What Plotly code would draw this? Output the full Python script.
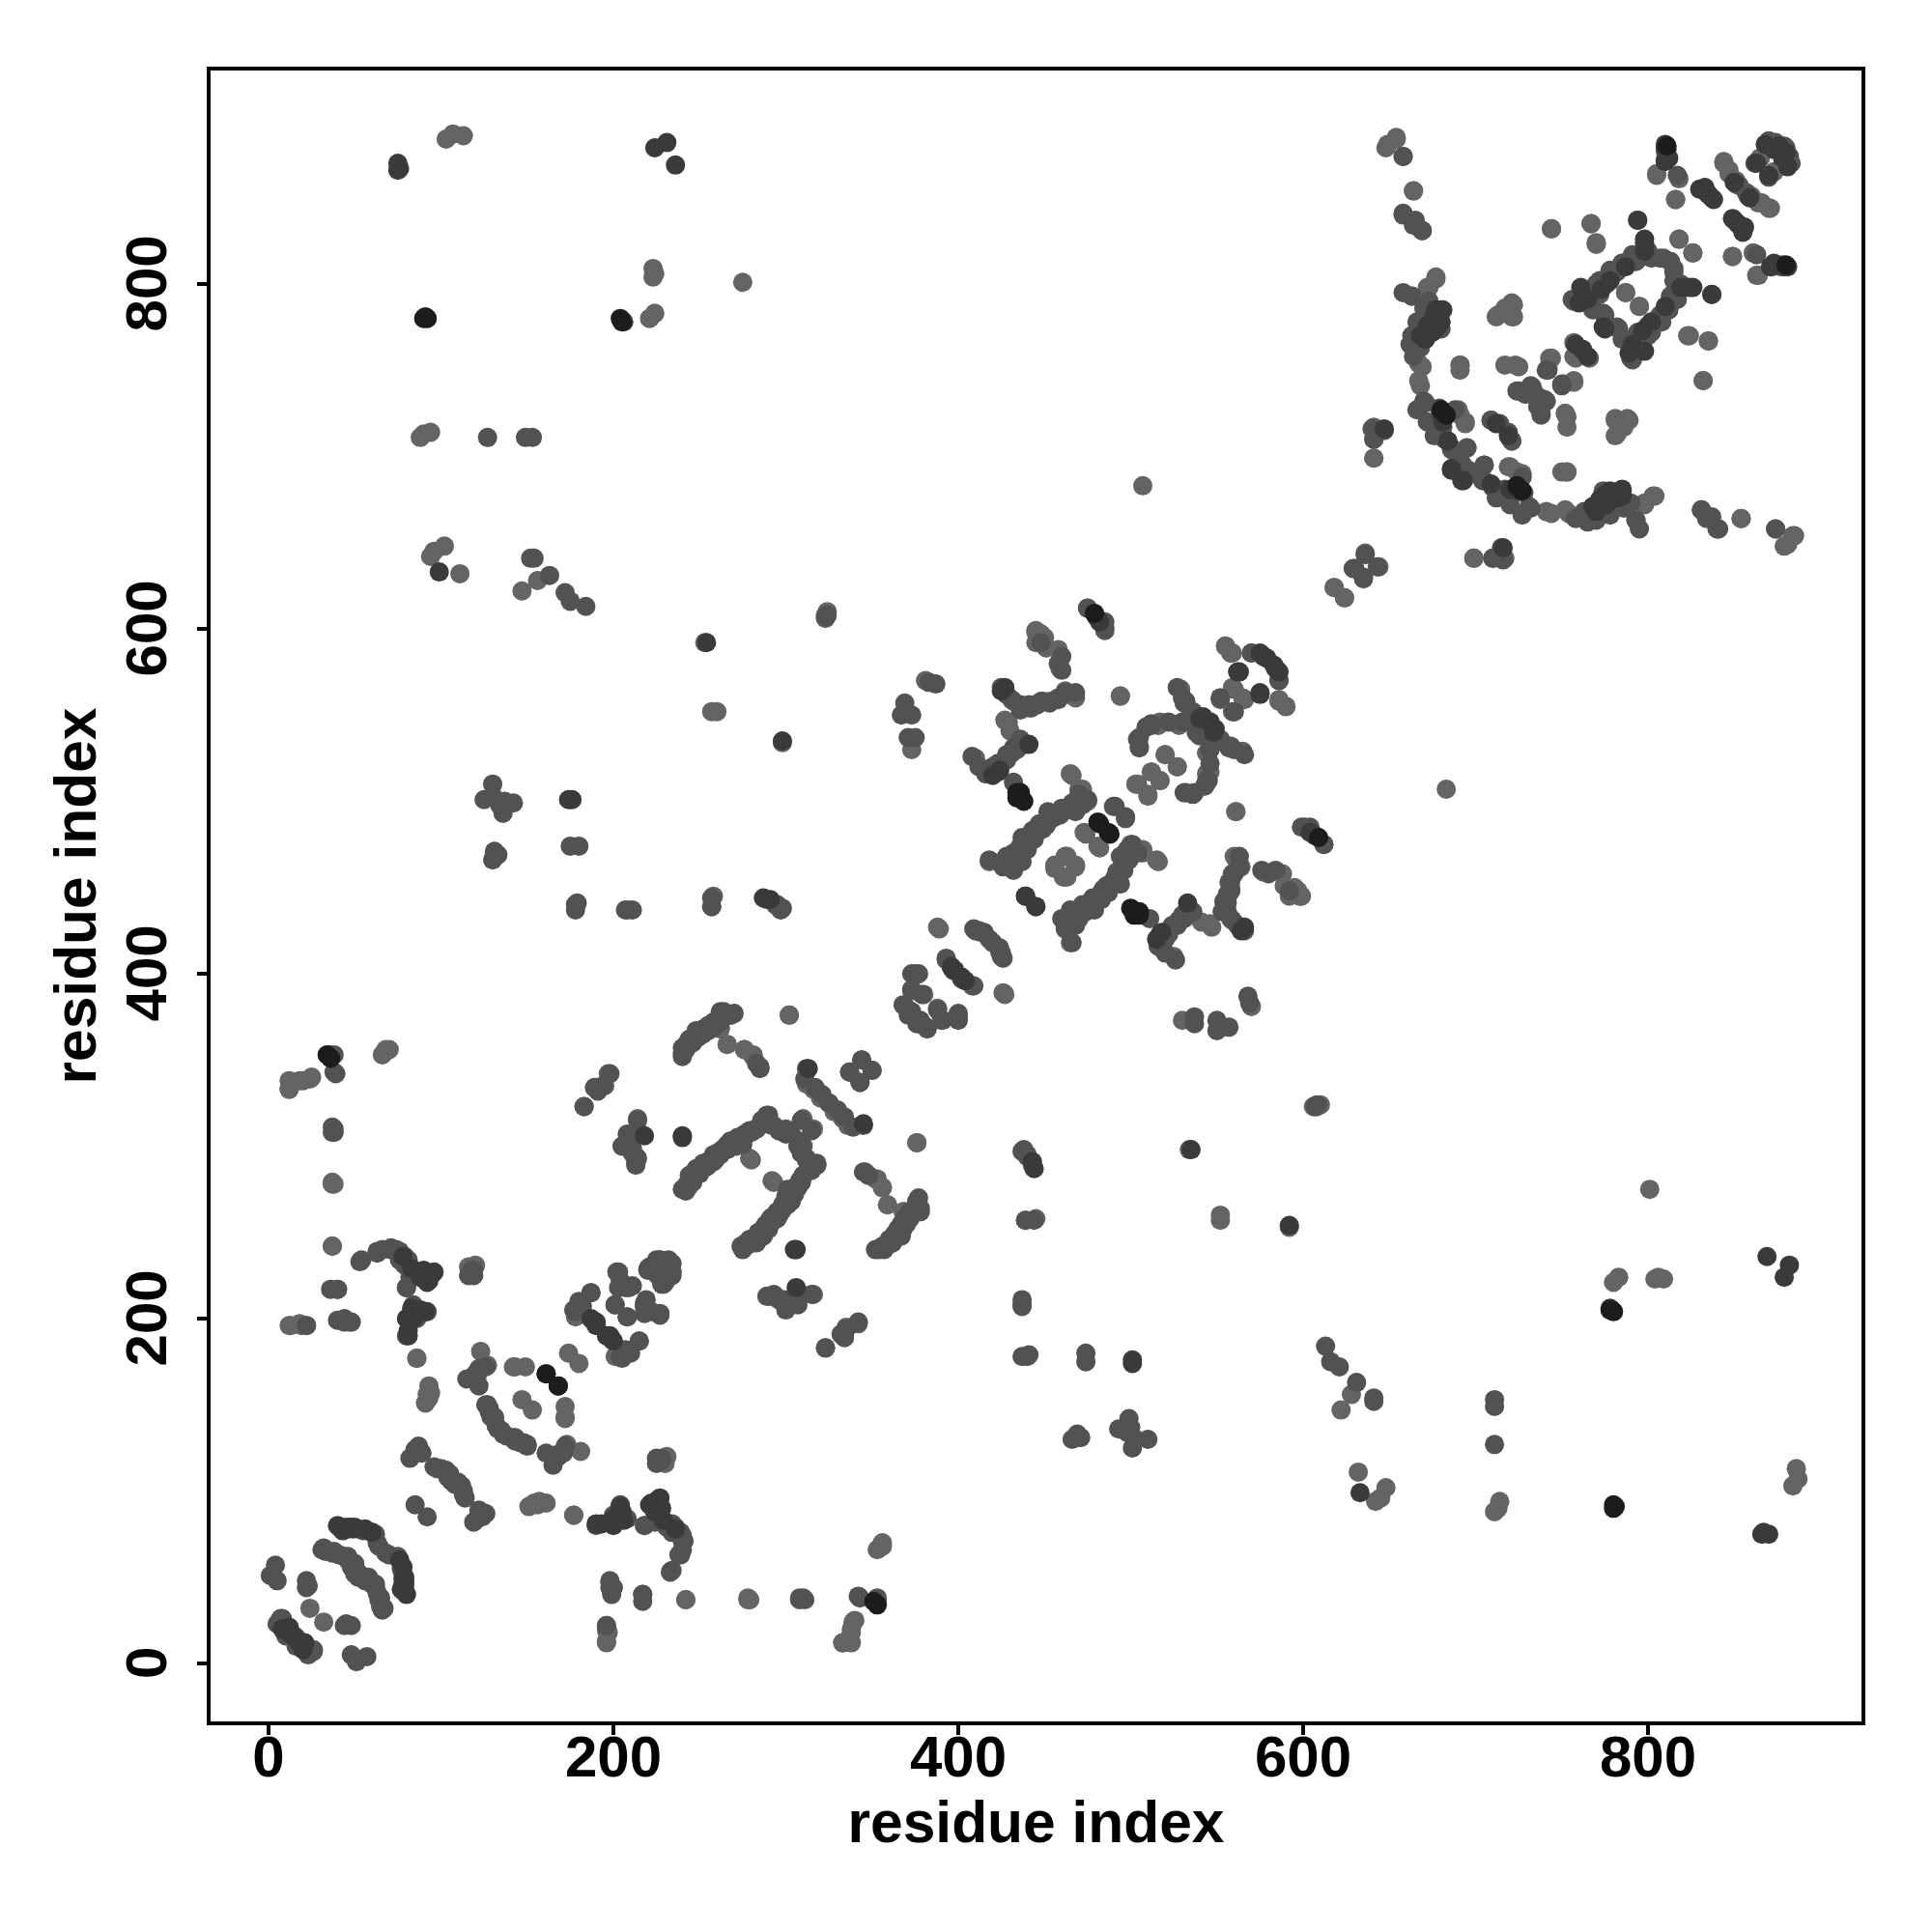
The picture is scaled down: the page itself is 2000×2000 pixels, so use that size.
import plotly.graph_objects as go

# contact pairs (residue i, residue j), drawn on both sides of the diagonal
light_pairs = [
 (103,884),(107,887),(113,886),(275,801),(223,804),(223,809),(224,806),(221,780),(224,783),
 (88,711),(90,713),(94,714),(96,645),(102,648),(94,642),(111,632),(147,622),(156,628),
 (257,552),(260,552),(12,338),(12,333),(20,338),(25,340),(68,355),(70,356),(37,279),(38,278),
 (37,242),(13,196),(19,196),(86,177),(94,157),(93,154),(116,230),(120,231),(201,178),
 (174,180),(147,153),(142,172),(149,172),(172,143),(123,181),(127,173),(24,32),(156,92),(151,91),(161,93),
 (177,86),(218,80),(196,12),(196,22),(197,18),(278,37),(279,37),(242,37),(356,68),(353,66),(333,12),(338,18),(339,24),
 (197,342),(195,335),(214,316),(213,290),(292,280),(279,293),(296,309),(316,310),(302,376),(262,369),(266,359),(276,356),
 (281,353),(285,346),(328,320),(333,316),(336,312),(376,302),(352,281),(356,276),(359,266),(368,262),
 (437,208),(439,257),(445,258),(388,427),(426,389),(494,561),(561,494),(507,683),(462,468),(456,463),(468,463),(461,456),
 (520,527),(527,520),(512,517),(504,510),(517,512),(510,503),(555,590),(558,586),(552,560),(565,560),(559,552),(559,566),
 (586,559),(590,555),(534,298),(592,253),(606,323),(608,323),(610,324),(375,400),(399,375),(408,393),(388,380),(390,373),
 (445,598),(450,595),(445,592),(458,588),(459,577),(429,546),(432,558),(381,570),(462,564),(467,562),(373,530),(465,516),
 (470,507),(475,500),(473,482),(481,474),(507,472),(515,466),(465,418),(492,457),(525,410),(599,445),(597,448),(589,451),
 (612,475),(562,464),(560,468),(558,453),(544,516),(544,528),(565,529),(541,430),(547,427),(517,546),
 (654,885),(649,881),(664,854),(677,804),(672,798),(641,699),(699,641),(744,832),(767,835),(770,824),(818,826),(826,818),
 (849,816),(823,770),(835,767),(832,744),(854,664),(874,658),(884,654),(879,648),(805,864),(816,849),(863,805),(787,795),
 (795,787),(803,677),(798,673),(753,691),(717,641),(710,641),(618,624),(624,618),(667,754),(667,744),(691,753),(691,750),
 (717,753),(723,753),(721,789),(721,781),(712,781),(717,786),(757,744),(751,742),(740,733),(788,722),(781,722),(782,713),
 (695,705),(690,727),(694,720),(719,694),(724,691),(741,668),(752,669),(877,810),(861,818),(844,870),(847,864),(860,851),
 (871,844),(866,847),(865,873),(873,865),(758,757),(743,757),(766,757),(738,725),(752,725),(636,644),
]
mid_pairs = [
 (4,57),(1,51),(5,48),(22,48),(22,44),(23,45),(7,26),(5,23),(26,8),(10,16),(42,78),(45,78),(48,79),(52,78),(55,77),(60,76),
 (62,75),(63,70),(64,68),(31,66),(33,65),(37,64),(41,63),(44,62),(46,60),(50,58),(48,56),(51,54),(52,50),(62,46),(60,47),(65,38),(67,32),
 (53,233),(63,239),(66,240),(71,241),(74,240),(76,239),(79,236),(81,234),(84,227),(80,218),(40,217),(36,217),(42,199),(48,198),(44,198),(22,196),
 (130,510),(125,501),(134,498),(142,499),(136,493),(131,471),(133,469),(175,474),(180,474),(178,437),(178,440),(179,441),(207,437),(211,437),
 (257,444),(257,439),(289,443),(294,440),(298,438),(149,711),(153,711),(127,711),(154,641),(152,641),(163,631),(172,621),(175,616),(184,613),(323,607),(324,608),
 (35,353),(38,353),(39,342),(38,310),(37,308),
 (202,227),(204,222),(207,218),(211,219),(187,215),(180,210),(177,205),(207,182),(215,187),(204,178),(201,208),(208,201),(218,203),(227,203),(218,209),
 (221,229),(229,221),(226,225),(234,227),(227,234),(234,232),(221,230),(220,229),(228,220),(234,225),
 (122,171),(115,165),(121,167),(122,161),(126,172),(120,168),(126,150),(128,146),(131,142),(133,136),(129,143),(127,149),(135,135),(138,132),(143,131),(148,128),(150,127),
 (87,126),(82,119),(89,122),(84,121),(86,122),(85,124),(96,114),(100,113),(103,112),(105,110),(98,113),(104,108),(106,106),(85,92),
 (190,80),(204,92),(208,84),(200,86),(224,82),(231,79),(234,76),(240,71),(238,63),(234,54),(198,47),(199,40),(200,44),(217,40),(308,38),(311,37),(343,38),
 (116,225),(119,228),(225,119),(228,118),
 (183,323),(189,334),(191,332),(208,307),(205,300),(213,294),(211,296),(240,275),(242,277),(244,281),(246,284),(248,287),(252,290),(256,292),(260,296),(263,298),(266,301),(268,303),
 (272,305),(276,307),(280,309),(283,310),(286,315),(289,318),(292,312),(300,310),(303,308),(309,315),(307,300),(309,296),(312,293),(318,290),(310,283),(309,279),(301,275),(303,268),(300,271),
 (296,262),(294,260),(292,259),(289,255),(286,250),(285,248),(280,246),(275,242),(277,244),
 (264,378),(270,377),(268,376),(244,362),(248,367),(252,368),(255,370),(258,372),(240,357),(243,360),
 (312,345),(311,339),(317,334),(321,330),(325,325),(344,350),(337,343),(350,344),(343,337),(345,285),(348,283),
 (367,255),(365,252),(363,249),(360,246),(356,242),(352,240),(376,268),(378,262),(376,264),(437,297),(440,295),
 (342,198),(335,194),(334,190),(323,183),(315,214),(309,214),(300,208),(291,213),(293,214),(289,213),(299,211),(303,209),
 (466,130),(469,131),(500,137),(503,130),
 (409,426),(415,424),(412,425),(420,418),(425,410),(424,413),(393,409),(402,397),(404,396),(373,400),(377,400),(373,391),(379,388),(368,382),(371,379),(380,370),(376,371),(378,373),
 (369,557),(373,550),(367,550),(375,537),(371,537),(383,569),(387,568),(425,566),(428,562),(436,556),(440,555),(444,556),(449,558),(453,557),(458,559),(462,563),
 (431,528),(438,533),(434,530),(423,522),(408,526),(416,516),(412,520),(419,519),(432,511),(475,612),(485,601),(485,604),
 (461,495),(452,494),(447,487),(440,477),(443,481),(436,474),(432,470),(428,468),(418,466),(431,464),(456,491),(466,499),(470,497),(490,497),(497,491),
 (501,475),(494,468),(498,472),(486,451),(483,447),(479,442),(476,440),(472,438),(468,434),(464,429),(460,432),(490,454),(495,462),
 (533,438),(528,431),(531,434),(524,428),(516,416),(520,420),(554,442),(556,446),(559,431),(576,460),(584,460),(580,458),(592,448),(599,485),
 (527,566),(530,560),(532,558),(530,546),(534,548),(536,552),(548,542),(540,538),(557,531),(552,535),(509,543),(505,537),(505,531),(512,545),(522,546),
 (543,509),(544,512),(532,505),(536,504),(570,586),(586,570),(552,560),(576,585),
 (658,874),(658,840),(665,837),(669,831),(663,793),(658,795),(676,782),(671,772),(664,765),(670,732),(686,705),(682,710),(705,695),(701,690),
 (709,721),(721,709),(719,714),(717,681),(727,688),(728,679),(731,671),(765,662),(767,665),(769,670),(772,673),(774,680),(779,678),(793,663),(831,669),(834,664),(841,658),
 (640,716),(641,710),(629,635),(643,636),(635,630),(715,647),(756,791),(768,786),(774,783),(782,775),(785,768),
 (766,796),(772,802),(778,808),(785,812),(791,817),(800,819),(807,815),(815,809),(813,813),(815,802),(815,795),(813,793),(812,785),(807,782),(802,778),(800,776),(794,772),(790,763),(790,757),
 (837,794),(811,878),(810,872),(817,863),(851,858),(882,874),(873,881),(732,741),(724,738),(742,750),(741,750),(734,737),(736,729),
 (857,853),(862,870),(852,835),(870,883),(880,879),(761,795),(770,800),
 (242,274),(246,279),(250,284),(254,288),(258,291),(262,295),(266,298),(270,302),(274,304),(246,362),(250,364),(254,367),(258,369),(262,372),(240,354),
 (286,248),(283,244),(288,252),(291,256),(295,258),(298,264),(302,271),(305,276),(308,280),(312,285),(437,465),(440,472),(444,478),(449,484),(454,490),(459,492),
 (470,504),(472,499),(479,437),(483,443),(487,449),(491,455),(496,460),(462,426),(466,431),(470,435),(474,437),(520,422),(523,426),(527,428),(531,432),(536,436),
 (553,436),(556,441),(558,448),(560,458),(563,468),(673,790),(670,786),(666,778),(663,770),(690,700),(696,692),(704,686),(712,676),(720,672),(727,666),(758,664),(763,668),(775,676),
]
dark_pairs = [
 (224,879),(231,882),(236,869),(205,779),(206,778),(99,633),(254,592),(298,535),(174,501),(176,501),(75,866),(76,867),(870,75),
 (12,21),(11,19),(12,18),(13,17),(15,16),(8,20),(40,80),(43,79),(46,79),(49,78),(76,60),(78,56),(79,50),(78,46),(77,43),
 (91,226),(95,226),(83,206),(84,200),(81,193),(91,204),(81,190),(84,203),(88,205),(188,199),(190,196),(198,190),(200,187),(200,80),(202,84),
 (221,92),(227,96),(224,89),(229,83),(236,78),(218,306),(240,306),(305,240),(345,313),(443,291),(444,287),(437,501),
 (396,404),(398,402),(439,445),(445,439),(518,424),(566,427),(564,425),(607,480),(604,482),(533,441),(542,549),(546,546),(548,540),(562,575),(575,563),
 (584,577),(586,575),(579,583),(423,517),(420,515),
 (677,785),(680,785),(680,778),(678,775),(675,772),(671,768),(680,725),(681,720),(686,693),(692,686),(712,719),(709,684),
 (819,798),(826,798),(798,824),(794,837),(834,853),(837,850),(830,855),(871,810),(873,812),(879,810),(850,859),(852,835),(856,833),(849,838),(811,875),(810,881),
 (647,716),(781,678),(785,681),(782,676),(776,672),(770,668),(774,775),(797,773),(802,778),(810,787),(761,798),(789,760),(791,765),
 (868,881),(873,878),(880,876),(863,870),(758,765),(762,762),
 (88,224),(93,222),(90,223),(90,228),
]
darkest_pairs = [
 (90,780),(92,780),(91,781),(161,168),(168,161),(481,488),(487,482),(353,34),(351,36),(436,505),(434,502),(438,500),(502,436),(505,434),
 (479,609),(811,880),(680,727),(683,724),(778,205),(780,204),
]

shades = ["#646464", "#525252", "#3a3a3a", "#1c1c1c"]
groups = [light_pairs, mid_pairs, dark_pairs, darkest_pairs]

fig = go.Figure()
for pairs, shade in zip(groups, shades):
    xs = [p[0] for p in pairs] + [p[1] for p in pairs]
    ys = [p[1] for p in pairs] + [p[0] for p in pairs]
    fig.add_trace(go.Scatter(x=xs, y=ys, mode="markers", cliponaxis=True, showlegend=False,
                             marker=dict(size=20, color=shade, line=dict(width=0))))

tick_vals = [0, 200, 400, 600, 800]
axis_common = dict(
    tickvals=tick_vals, ticks="outside", ticklen=10, tickwidth=3.5, tickcolor="black",
    showline=True, mirror=True, linecolor="black", linewidth=3.5, showgrid=False, zeroline=False,
    tickfont=dict(family="Liberation Sans", size=60, color="black", weight="bold"),
)
title_font = dict(family="Liberation Sans", size=60.5, color="black")
fig.update_xaxes(range=[-33.6, 923.8], ticklabelstandoff=-29, ticktext=[str(v) for v in tick_vals],
                 title=dict(text="<b>residue index</b>", standoff=0, font=title_font), **axis_common)
fig.update_yaxes(range=[-33.6, 923.8], tickangle=-90, ticklabelstandoff=8, ticktext=[str(v) + "\u00a0" for v in tick_vals],
                 title=dict(text="<b>residue index</b>", standoff=0, font=title_font), **axis_common)
fig.update_layout(width=2000, height=2000, paper_bgcolor="white", plot_bgcolor="white",
                  margin=dict(l=218, r=73, t=73, b=218, autoexpand=False))
fig.write_html("out.html", config=dict(displayModeBar=False), post_script="document.body.style.margin='0';")
